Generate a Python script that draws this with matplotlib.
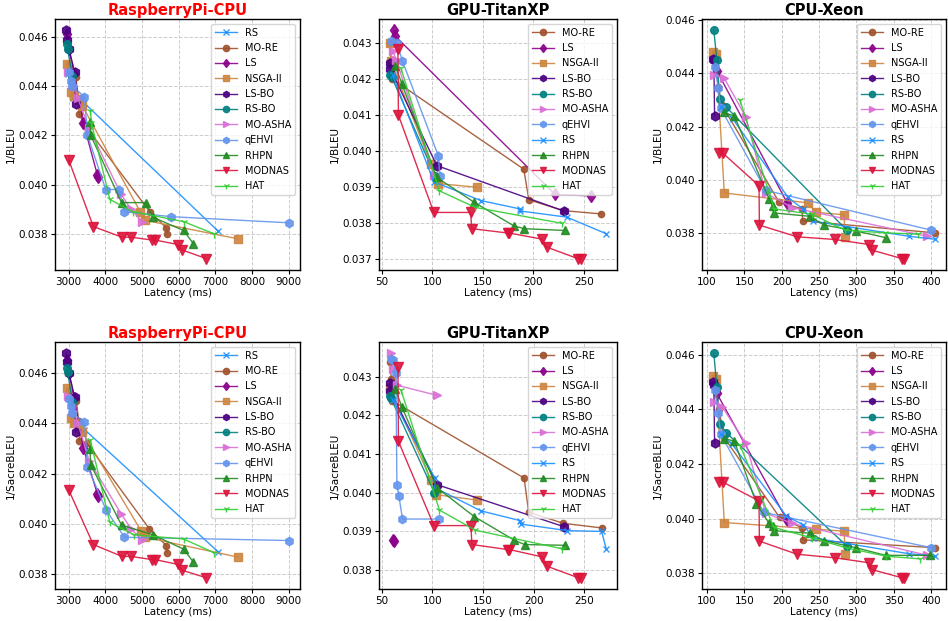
import matplotlib
matplotlib.use('Agg')
import matplotlib.pyplot as plt
from matplotlib.ticker import FormatStrFormatter

# latency (ms), score
PI_BLEU = {
    'RS': ([2990, 3050, 3120, 3430, 7080], [0.0445, 0.0440, 0.0435, 0.0433, 0.0381]),
    'MO-RE': ([3000, 3200, 3250, 3290, 3420, 5220, 5660, 5680], [0.0449, 0.04435, 0.0434, 0.04285, 0.04245, 0.03888, 0.03825, 0.0380]),
    'LS': ([2950, 3000, 3150, 3400, 3780, 3800], [0.0461, 0.0455, 0.0445, 0.0425, 0.0404, 0.0403]),
    'NSGA-II': ([2960, 3070, 3150, 3280, 3370, 4950, 5080, 7620], [0.0449, 0.04375, 0.0436, 0.04345, 0.0432, 0.0389, 0.03855, 0.0378]),
    'LS-BO': ([2930, 2960, 3010, 3160, 3190], [0.04625, 0.04585, 0.0455, 0.04455, 0.04325]),
    'RS-BO': ([2960, 2970, 3100], [0.0457, 0.0455, 0.0444]),
    'MO-ASHA': ([2990, 3130, 3250, 3550, 4430, 4700, 5000], [0.04455, 0.0440, 0.0435, 0.0423, 0.0396, 0.0390, 0.0385]),
    'qEHVI': ([3000, 3050, 3100, 3430, 3510, 4010, 4370, 4520, 5780, 9000], [0.04455, 0.0442, 0.0440, 0.04355, 0.0420, 0.0398, 0.0398, 0.0389, 0.0387, 0.03845]),
    'RHPN': ([3580, 3600, 4440, 5110, 5290, 6130, 6400], [0.04255, 0.0420, 0.03927, 0.03927, 0.03868, 0.03814, 0.0376]),
    'MODNAS': ([3000, 3670, 4450, 4690, 5280, 5360, 5980, 6090, 6750], [0.0410, 0.0383, 0.03787, 0.03787, 0.03775, 0.03775, 0.03757, 0.03735, 0.0370]),
    'HAT': ([3590, 3620, 4120, 4750, 6130, 6970], [0.0430, 0.0425, 0.0394, 0.0389, 0.0385, 0.0380]),
}

GPU_BLEU = {
    'MO-RE': ([58, 59.5, 60.5, 190.5, 195.5, 230, 267], [0.0430, 0.0425, 0.0420, 0.0395, 0.03865, 0.03835, 0.03826]),
    'LS': ([62, 63, 221.5, 257], [0.04335, 0.0432, 0.0388, 0.03876]),
    'NSGA-II': ([58, 59, 98.5, 106, 144], [0.0430, 0.0425, 0.03965, 0.0391, 0.0390]),
    'LS-BO': ([58, 58.5, 104.5, 230], [0.04245, 0.04228, 0.0396, 0.03834]),
    'RS-BO': ([58, 60, 103], [0.0421, 0.04205, 0.0393]),
    'MO-ASHA': ([61, 64.5, 101.5], [0.04278, 0.04252, 0.03934]),
    'qEHVI': ([59.5, 65, 70.5, 106, 107.5], [0.04305, 0.0430, 0.0425, 0.03987, 0.03932]),
    'RS': ([61, 101.5, 148, 186.5, 187, 233, 272], [0.0421, 0.03915, 0.03863, 0.0384, 0.03834, 0.03817, 0.03771]),
    'RHPN': ([63.5, 70, 104.5, 141.5, 180.5, 191, 231], [0.04237, 0.04186, 0.03927, 0.03858, 0.03793, 0.03785, 0.0378]),
    'MODNAS': ([66, 66.5, 101.5, 138, 139, 174.5, 176, 208.5, 213, 244, 247], [0.04283, 0.0410, 0.0383, 0.0383, 0.03785, 0.03773, 0.03773, 0.03756, 0.03734, 0.03702, 0.03702]),
    'HAT': ([69, 107, 142.5, 228], [0.0423, 0.0389, 0.03844, 0.0380]),
}

XEON_BLEU = {
    'MO-RE': ([110, 115, 120, 196, 227, 228, 405], [0.0447, 0.0435, 0.0428, 0.03917, 0.0389, 0.03845, 0.0380]),
    'LS': ([109, 113, 207], [0.04455, 0.0441, 0.03914]),
    'NSGA-II': ([108, 112, 123, 234.5, 246, 283.5, 284.5], [0.0448, 0.04475, 0.0395, 0.03913, 0.03877, 0.03868, 0.03785]),
    'LS-BO': ([108, 109, 110], [0.04455, 0.0445, 0.04238]),
    'RS-BO': ([109, 113, 117, 125, 287], [0.04562, 0.0445, 0.04305, 0.04275, 0.0381]),
    'MO-ASHA': ([109, 123, 152, 178.5, 214, 395], [0.04395, 0.04382, 0.04235, 0.0395, 0.03895, 0.03787]),
    'qEHVI': ([110, 115, 118, 178.5, 400], [0.04425, 0.04345, 0.0427, 0.0396, 0.0381]),
    'RS': ([119, 134, 208.5, 229, 241.5, 370, 405], [0.04273, 0.0423, 0.03933, 0.03888, 0.03844, 0.03787, 0.03776]),
    'RHPN': ([122, 136.5, 183, 188, 189, 238, 256, 299, 339], [0.04253, 0.0424, 0.03927, 0.0390, 0.03875, 0.03862, 0.0383, 0.03807, 0.03782]),
    'MODNAS': ([116, 121, 169.5, 170, 220.5, 271, 316.5, 320.5, 361, 364], [0.0410, 0.0410, 0.03977, 0.03829, 0.03785, 0.03775, 0.03756, 0.03735, 0.03703, 0.03703]),
    'HAT': ([144, 183, 190, 240, 285, 338, 383], [0.0430, 0.0395, 0.0389, 0.0387, 0.0381, 0.0380, 0.03795]),
}

PI_SACRE = {
    'RS': ([2990, 3050, 3120, 3430, 7080], [0.0450, 0.0445, 0.0440, 0.04375, 0.03888]),
    'MO-RE': ([3000, 3210, 3270, 3290, 3500, 5200, 5660, 5680], [0.0453, 0.0449, 0.0441, 0.0433, 0.0432, 0.0398, 0.03914, 0.03885]),
    'LS': ([2950, 3000, 3150, 3400, 3780, 3800], [0.0465, 0.0460, 0.0450, 0.0430, 0.0412, 0.0411]),
    'NSGA-II': ([2960, 3070, 3150, 3280, 3370, 4970, 5080, 7620], [0.0454, 0.0442, 0.0440, 0.0439, 0.04365, 0.03973, 0.03947, 0.03868]),
    'LS-BO': ([2930, 2960, 3010, 3160, 3190], [0.04678, 0.04643, 0.0460, 0.04503, 0.04365]),
    'RS-BO': ([2960, 2970, 3100], [0.0462, 0.04604, 0.04486]),
    'MO-ASHA': ([2990, 3130, 3250, 3560, 4430, 4700, 5000], [0.0451, 0.0445, 0.0440, 0.0425, 0.0404, 0.0398, 0.03936]),
    'qEHVI': ([3000, 3050, 3100, 3430, 3510, 4020, 4520, 9000], [0.04497, 0.0447, 0.0444, 0.04405, 0.04228, 0.04055, 0.03947, 0.03934]),
    'RHPN': ([3580, 3600, 4440, 5290, 6130, 6400], [0.04298, 0.04235, 0.03995, 0.03957, 0.0390, 0.03848]),
    'MODNAS': ([3000, 3670, 4450, 4690, 5280, 5360, 5980, 6090, 6750], [0.04135, 0.03918, 0.03871, 0.03871, 0.03858, 0.03858, 0.03839, 0.03816, 0.03786]),
    'HAT': ([3590, 4120, 4770, 6130, 6970], [0.04333, 0.04006, 0.03957, 0.0394, 0.03885]),
}

GPU_SACRE = {
    'MO-RE': ([58, 59.5, 60.5, 190.5, 195, 229, 267], [0.04338, 0.04295, 0.04238, 0.04038, 0.0395, 0.03921, 0.03909]),
    'LS': ([61.5, 62], [0.03878, 0.03876]),
    'NSGA-II': ([58, 98.5, 104, 144], [0.0427, 0.04034, 0.03995, 0.03981]),
    'LS-BO': ([58, 58.5, 104.5, 230], [0.04283, 0.04263, 0.04021, 0.03912]),
    'RS-BO': ([58, 59, 102], [0.0425, 0.04245, 0.0400]),
    'MO-ASHA': ([59.5, 61.5, 65.5, 104.5], [0.04361, 0.0432, 0.04278, 0.04252]),
    'qEHVI': ([59.5, 61, 64, 65, 67, 70.5, 107], [0.04347, 0.04344, 0.0431, 0.0402, 0.03991, 0.03932, 0.03932]),
    'RS': ([61, 102.5, 102.5, 148, 186.5, 187, 233, 267, 271.5], [0.0424, 0.04038, 0.04013, 0.03953, 0.03928, 0.03919, 0.03902, 0.0390, 0.03855]),
    'RHPN': ([63.5, 70, 104.5, 141.5, 181, 191, 231], [0.04268, 0.04221, 0.04013, 0.03938, 0.03877, 0.03866, 0.03864]),
    'MODNAS': ([66, 66.5, 101.5, 138, 139, 174.5, 176, 208.5, 213, 244, 247], [0.04326, 0.04133, 0.03915, 0.03915, 0.03866, 0.03853, 0.03853, 0.03834, 0.0381, 0.0378, 0.0378]),
    'HAT': ([69, 107, 142.5, 228], [0.04266, 0.03955, 0.03903, 0.03855]),
}

XEON_SACRE = {
    'MO-RE': ([110, 116, 122, 197, 227.5, 228, 405], [0.0451, 0.0440, 0.0430, 0.04005, 0.03966, 0.03923, 0.03894]),
    'LS': ([109, 113, 207], [0.0450, 0.04458, 0.03995]),
    'NSGA-II': ([108, 112, 123, 245.5, 283.5, 284.5], [0.0452, 0.0451, 0.03986, 0.03962, 0.03954, 0.03872]),
    'LS-BO': ([108, 109, 110], [0.04498, 0.0449, 0.04275]),
    'RS-BO': ([109, 113, 117, 125.5, 287], [0.04605, 0.0448, 0.04347, 0.04315, 0.0390]),
    'MO-ASHA': ([109, 120, 152, 178.5, 214, 395], [0.04425, 0.0441, 0.04275, 0.0402, 0.03983, 0.03866]),
    'qEHVI': ([110, 115, 118, 176, 400], [0.0447, 0.04387, 0.0431, 0.04023, 0.03894]),
    'RS': ([119, 133.5, 206, 229, 242, 370, 405], [0.0431, 0.04272, 0.0401, 0.03977, 0.0393, 0.03872, 0.03863]),
    'RHPN': ([122, 136.5, 166, 183, 188, 189, 238, 256, 299, 339, 399], [0.04293, 0.04284, 0.04055, 0.03983, 0.03974, 0.03956, 0.03947, 0.0392, 0.03894, 0.03866, 0.03866]),
    'MODNAS': ([116, 121, 169.5, 170, 220.5, 271, 316.5, 320.5, 361, 364], [0.04134, 0.04134, 0.04065, 0.03918, 0.0387, 0.03857, 0.03839, 0.03814, 0.03784, 0.03784]),
    'HAT': ([144, 189.5, 240, 287, 339.5, 385], [0.04269, 0.03968, 0.0393, 0.03893, 0.03863, 0.03853]),
}

order_pi = ['RS', 'MO-RE', 'LS', 'NSGA-II', 'LS-BO', 'RS-BO', 'MO-ASHA', 'qEHVI', 'RHPN', 'MODNAS', 'HAT']
order_other = ['MO-RE', 'LS', 'NSGA-II', 'LS-BO', 'RS-BO', 'MO-ASHA', 'qEHVI', 'RS', 'RHPN', 'MODNAS', 'HAT']

style = {
    'RS': ('#1E90FF', 'x', 5),
    'MO-RE': ('sienna', 'o', 4.5),
    'LS': ('darkmagenta', 'd', 6),
    'NSGA-II': ('peru', 's', 6),
    'LS-BO': ('indigo', 'h', 6.5),
    'RS-BO': ('teal', 'o', 5.5),
    'MO-ASHA': ('orchid', '>', 6),
    'qEHVI': ('cornflowerblue', 'h', 6),
    'RHPN': ('forestgreen', '^', 6),
    'MODNAS': ('crimson', 'v', 6.5),
    'HAT': ('limegreen', '1', 6),
}

panels = [
    (PI_BLEU, order_pi, 'RaspberryPi-CPU', 'red', '1/BLEU', [55, 19, 300, 270]),
    (GPU_BLEU, order_other, 'GPU-TitanXP', 'black', '1/BLEU', [379, 19, 617, 270]),
    (XEON_BLEU, order_other, 'CPU-Xeon', 'black', '1/BLEU', [702, 19, 946, 270]),
    (PI_SACRE, order_pi, 'RaspberryPi-CPU', 'red', '1/SacreBLEU', [55, 342, 300, 589]),
    (GPU_SACRE, order_other, 'GPU-TitanXP', 'black', '1/SacreBLEU', [379, 342, 617, 589]),
    (XEON_SACRE, order_other, 'CPU-Xeon', 'black', '1/SacreBLEU', [702, 342, 946, 589]),
]

W, H = 948, 621
fig = plt.figure(figsize=(W / 100, H / 100), dpi=100)

for data, order, title, tcolor, ylab, box in panels:
    x0, y0, x1, y1 = box
    ax = fig.add_axes([x0 / W, 1 - y1 / H, (x1 - x0) / W, (y1 - y0) / H])
    for name in order:
        lat, val = data[name]
        c, m, ms = style[name]
        ax.plot(lat, val, color=c, marker=m, markersize=ms, linewidth=1.0,
                markeredgewidth=1.0, label=name, alpha=0.9)
    ax.set_title(title, color=tcolor, fontsize=10.5, fontweight='bold', pad=3)
    ax.set_xlabel('Latency (ms)', fontsize=7.5, labelpad=1)
    ax.set_ylabel(ylab, fontsize=7.5, labelpad=2)
    ax.tick_params(labelsize=7.5, length=3, pad=2)
    ax.yaxis.set_major_formatter(FormatStrFormatter('%.3f'))
    ax.grid(True, linestyle='--', color='#cccccc', linewidth=0.7)
    ax.set_axisbelow(True)
    for s in ax.spines.values():
        s.set_linewidth(1.0)
    leg = ax.legend(loc='upper right', fontsize=7, handlelength=2.3, labelspacing=0.55,
                    borderpad=0.4, handletextpad=0.8)
    for h in leg.legend_handles:
        h.set_markersize(4.5)

fig.savefig('out.png', dpi=100)
